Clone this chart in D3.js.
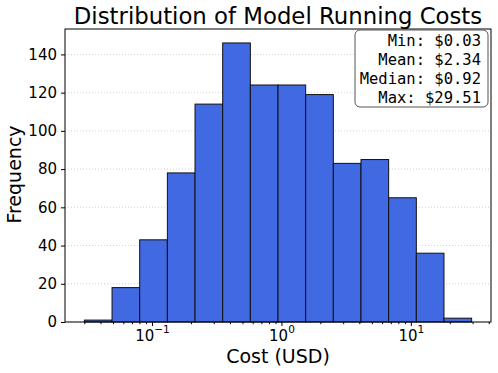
<!DOCTYPE html>
<html>
<head>
<meta charset="utf-8">
<script src="https://cdn.jsdelivr.net/npm/d3@7"></script>
<style>
  body { margin: 0; background: #fff; }
  svg text { font-family: "DejaVu Sans", sans-serif; fill: #000; }
</style>
</head>
<body>
<svg id="hist" width="498" height="373"></svg>
<script>
// histogram bins (log spaced between min and max cost)
var binEdges = [0.0300, 0.04909, 0.0803, 0.1314, 0.2149, 0.3516, 0.5752, 0.9410,
                1.539, 2.518, 4.120, 6.741, 11.03, 18.04, 29.51];
var counts = [1, 18, 43, 78, 114, 146, 124, 124, 119, 83, 85, 65, 36, 2];
var yTicks = [0, 20, 40, 60, 80, 100, 120, 140];
var xTicks = [0.1, 1, 10];
var xTickExp = ["\u22121", "0", "1"];
var statLines = ["Min: $0.03", "Mean: $2.34", "Median: $0.92", "Max: $29.51"];

var svg = d3.select("#hist");
var margin = {top: 29, right: 7, bottom: 51, left: 65};
var width = 498 - margin.left - margin.right;
var height = 373 - margin.top - margin.bottom;
var g = svg.append("g").attr("transform", "translate(" + margin.left + "," + margin.top + ")");

var lo = Math.log10(binEdges[0]), hi = Math.log10(binEdges[binEdges.length - 1]);
var pad = (hi - lo) * 0.05;
var x = d3.scaleLog()
    .domain([Math.pow(10, lo - pad), Math.pow(10, hi + pad)])
    .range([0, width]);

var y = d3.scaleLinear()
    .domain([0, d3.max(counts) * 1.05])
    .range([height, 0]);

var bins = counts.map(function(c, i) { return {x0: binEdges[i], x1: binEdges[i + 1], n: c}; });

// grid lines
g.append("g")
  .selectAll("line")
  .data(yTicks)
  .enter().append("line")
    .attr("x1", 0)
    .attr("x2", width)
    .attr("y1", function(d) { return y(d); })
    .attr("y2", function(d) { return y(d); })
    .attr("stroke", "#b0b0b0")
    .attr("stroke-width", 0.8)
    .attr("stroke-dasharray", "1,2")
    .attr("opacity", 0.7);

// bars
g.append("g")
  .selectAll("rect")
  .data(bins)
  .enter().append("rect")
    .attr("x", function(d) { return x(d.x0); })
    .attr("y", function(d) { return y(d.n); })
    .attr("width", function(d) { return x(d.x1) - x(d.x0); })
    .attr("height", function(d) { return y(0) - y(d.n); })
    .attr("fill", "#4169e1")
    .attr("stroke", "#111")
    .attr("stroke-width", 1);

// axes
var yAxis = g.append("g")
    .call(d3.axisLeft(y).tickValues(yTicks).tickSize(4).tickPadding(4).tickFormat(d3.format("d")));
yAxis.select(".domain").remove();
yAxis.selectAll("text").style("font-size", "15px").attr("fill", "#000");

var minor = [];
[0.01, 0.1, 1, 10].forEach(function(dec) {
  for (var k = 2; k <= 9; k++) {
    var v = dec * k;
    if (v > x.domain()[0] && v < x.domain()[1]) minor.push(v);
  }
});
var xMinor = g.append("g")
    .attr("transform", "translate(0," + height + ")")
    .call(d3.axisBottom(x).tickValues(minor).tickSize(2.2).tickFormat(""));
xMinor.select(".domain").remove();

var xAxis = g.append("g")
    .attr("transform", "translate(0," + height + ")")
    .call(d3.axisBottom(x).tickValues(xTicks).tickSize(4).tickPadding(5).tickFormat(""));
xAxis.select(".domain").remove();
xAxis.selectAll(".tick").append("text")
    .attr("y", 18.5)
    .attr("text-anchor", "middle")
    .style("font-size", "15px")
    .each(function(d, i) {
      var t = d3.select(this);
      t.append("tspan").text("10");
      t.append("tspan").attr("dy", -7.5).style("font-size", "10.5px").text(xTickExp[i]);
    });

// frame
g.append("rect")
    .attr("width", width)
    .attr("height", height)
    .attr("fill", "none")
    .attr("stroke", "#000")
    .attr("stroke-width", 1);

// labels
svg.append("text")
    .attr("x", margin.left + width / 2)
    .attr("y", 24)
    .attr("text-anchor", "middle")
    .style("font-size", "22.8px")
    .text("Distribution of Model Running Costs");

svg.append("text")
    .attr("x", margin.left + width / 2)
    .attr("y", 362.5)
    .attr("text-anchor", "middle")
    .style("font-size", "19px")
    .text("Cost (USD)");

svg.append("text")
    .attr("transform", "translate(21," + (margin.top + height / 2 - 1) + ") rotate(-90)")
    .attr("text-anchor", "middle")
    .style("font-size", "19px")
    .text("Frequency");

// stats box
var box = g.append("g");
box.append("rect")
    .attr("x", 290)
    .attr("y", 1)
    .attr("width", 133)
    .attr("height", 77)
    .attr("rx", 5)
    .attr("fill", "#fff")
    .attr("stroke", "#555")
    .attr("stroke-width", 1);
box.selectAll("text")
  .data(statLines)
  .enter().append("text")
    .attr("x", 416)
    .attr("y", function(d, i) { return 16.5 + i * 19.3; })
    .attr("text-anchor", "end")
    .style("font-family", "'DejaVu Sans Mono', monospace")
    .style("font-size", "15.5px")
    .text(function(d) { return d; });
</script>
</body>
</html>
